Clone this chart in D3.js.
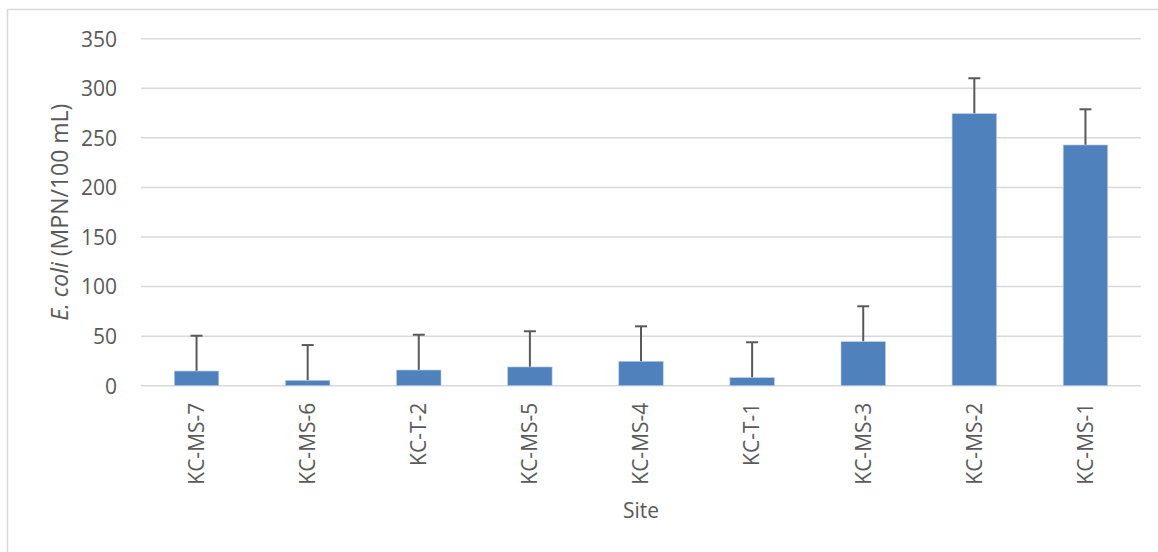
<!DOCTYPE html>
<html><head><meta charset="utf-8">
<script src="https://cdn.jsdelivr.net/npm/d3@7"></script>
<style>
html,body{margin:0;padding:0;background:#fff;}
svg{display:block;font-family:"Open Sans",sans-serif;}
</style></head>
<body>
<svg id="chart" width="1158" height="552"></svg>
<script>
const sites = ["KC-MS-7","KC-MS-6","KC-T-2","KC-MS-5","KC-MS-4","KC-T-1","KC-MS-3","KC-MS-2","KC-MS-1"];
const means = [14.8, 5.4, 15.8, 18.9, 24.6, 8.1, 44.4, 274.4, 242.8];
const errors = [35.6, 35.6, 35.6, 36.0, 35.3, 35.7, 35.7, 35.7, 36.0];
const yTicks = [0, 50, 100, 150, 200, 250, 300, 350];

const svg = d3.select("#chart");
const m = {left:141, right:1141, top:38.7, bottom:385.7};

// outer chart border (top/left visible)
svg.append("rect").attr("x",7.5).attr("y",9.5).attr("width",1160).attr("height",560)
  .attr("fill","none").attr("stroke","#D9D9D9").attr("stroke-width",1.5);

const x = d3.scaleBand().domain(sites).range([m.left,m.right]).paddingInner(0.6).paddingOuter(0.3);
const y = d3.scaleLinear().domain([0,350]).range([m.bottom,m.top]);

// gridlines
svg.append("g").selectAll("line").data(yTicks).join("line")
  .attr("x1",m.left).attr("x2",m.right)
  .attr("y1",d=>y(d)).attr("y2",d=>y(d))
  .attr("stroke","#D9D9D9").attr("stroke-width",1.5);

// y axis labels
const yAxis = d3.axisLeft(y).tickValues(yTicks).tickSize(0).tickPadding(24);
const gy = svg.append("g").attr("transform",`translate(${m.left},0)`).call(yAxis);
gy.select(".domain").remove();
gy.selectAll("text").attr("font-size",21).attr("fill","#595959").attr("font-family","Open Sans").attr("dy","0.35em");

// error bars (drawn under bars)
const eg = svg.append("g");
sites.forEach((s,i)=>{
  const cx = x(s)+x.bandwidth()/2;
  eg.append("line").attr("x1",cx).attr("x2",cx).attr("y1",y(means[i])).attr("y2",y(means[i]+errors[i]))
    .attr("stroke","#595959").attr("stroke-width",2);
  eg.append("line").attr("x1",cx-6).attr("x2",cx+6).attr("y1",y(means[i]+errors[i])).attr("y2",y(means[i]+errors[i]))
    .attr("stroke","#595959").attr("stroke-width",2);
});

// bars
svg.append("g").selectAll("rect").data(sites).join("rect")
  .attr("x",d=>x(d)).attr("width",x.bandwidth())
  .attr("y",(d,i)=>y(means[i])).attr("height",(d,i)=>y(0)-y(means[i]))
  .attr("fill","#4F81BD").attr("stroke","#B8CCE4").attr("stroke-width",0.6);

// x axis labels
const xAxis = d3.axisBottom(x).tickSize(0);
const gx = svg.append("g").attr("transform",`translate(0,${m.bottom})`).call(xAxis);
gx.select(".domain").remove();
gx.selectAll("text").attr("font-size",21).attr("fill","#595959").attr("font-family","Open Sans")
  .attr("text-anchor","end").attr("dy",null)
  .attr("transform","rotate(-90)").attr("x",-17).attr("y",0).attr("dy","0.35em");

// axis titles
svg.append("text").attr("x",(m.left+m.right)/2).attr("y",518).attr("text-anchor","middle")
  .attr("font-size",21).attr("fill","#595959").text("Site");

const yt = svg.append("text").attr("transform",`translate(68,${(m.top+m.bottom)/2}) rotate(-90)`)
  .attr("text-anchor","middle").attr("font-size",23).attr("fill","#595959");
yt.append("tspan").attr("font-style","italic").text("E. coli");
yt.append("tspan").text(" (MPN/100 mL)");
</script>
</body></html>
